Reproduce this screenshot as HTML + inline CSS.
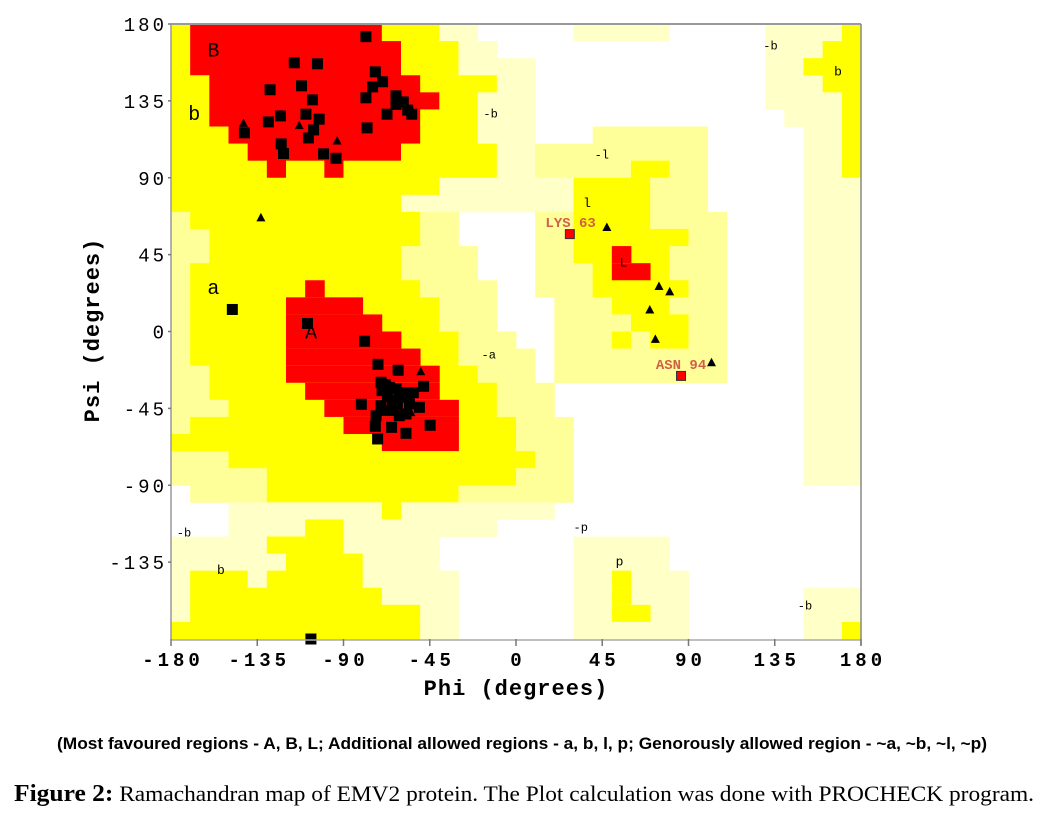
<!DOCTYPE html>
<html><head><meta charset="utf-8"><style>
html,body{margin:0;padding:0;background:#fff;width:1047px;height:816px;overflow:hidden}
svg{display:block}
</style></head><body>
<svg id="chart" width="1047" height="816" viewBox="0 0 1047 816" xmlns="http://www.w3.org/2000/svg">
<g id="regions"></g>
<g id="labels" font-family="Liberation Mono, monospace" fill="#000"></g>
<g id="points"></g>
<g id="axes"></g>
<text x="516" y="695" text-anchor="middle" font-family="Liberation Mono, monospace" font-weight="bold" font-size="22" letter-spacing="1">Phi (degrees)</text>
<text transform="translate(99,330) rotate(-90)" text-anchor="middle" font-family="Liberation Mono, monospace" font-weight="bold" font-size="22" letter-spacing="1">Psi (degrees)</text>
<text x="57" y="749" textLength="930" lengthAdjust="spacingAndGlyphs" font-family="Liberation Sans, Arial, sans-serif" font-weight="bold" font-size="17">(Most favoured regions -  A, B, L; Additional allowed regions -  a,  b,  l,  p; Genorously allowed region -  ~a, ~b, ~l, ~p)</text>
<text x="14" y="801" textLength="1020" lengthAdjust="spacingAndGlyphs" font-family="Liberation Serif, serif" font-size="22"><tspan font-weight="bold" font-size="24">Figure 2:</tspan> Ramachandran map of EMV2 protein. The Plot calculation was done with PROCHECK program.</text>
</svg>
<script>
// ---- data ----
const sqPhi = [-78.3,-115.7,-103.6,-73.4,-69.6,-74.8,-128.3,-111.9,-106.2,-78.3,-62.6,-62.6,-58.8,-56.5,-54.4,-67.3,-129.2,-122.9,-109.6,-102.7,-77.7,-105.6,-141.7,-108.3,-122.5,-121.3,-100.4,-93.9,-148,-108.8,
  -79,-72,-61.5,-48.2,-70.4,-69.9,-66.1,-62.6,-60.9,-56.5,-64.4,-70.4,-80.7,-55.6,-50.4,-73,-60.9,-64.4,-57.4,-73.4,-64.9,-57.4,-44.8,-72.2,-107,-68.2,-67.1,-59.3,-69.2,-61.9,-53.6];
const sqPsi = [172.6,157.3,156.7,152,146.2,143.2,141.5,143.8,135.6,136.8,138,132.9,134.4,129.6,127.2,127.2,122.7,126.2,127.2,124.3,119.2,118,116.3,113.3,109.8,104.2,104,101.4,12.9,4.7,
  -5.7,-19.2,-22.7,-32.1,-29.7,-34.6,-32.7,-33.6,-38.5,-36.9,-40.5,-43.4,-42.6,-42.4,-44.4,-49.3,-49.3,-46.3,-48.3,-55.5,-56.1,-59.6,-54.9,-62.9,-180,-31.1,-38.1,-35.8,-46.3,-42.8,-35.8];
const triPhi = [-142.2,-113.1,-93.3,-133.1,-49.7,-54.8,47.4,74.6,80.2,69.8,72.7,102];
const triPsi = [122.1,120.8,111.8,66.8,-23.3,-47.3,61.2,26.6,23.5,12.9,-4.3,-18];
const outNames = ["LYS 63","ASN 94"];
const outPhi = [28.1,86.1];
const outPsi = [57,-26];
const xTicks = [-180,-135,-90,-45,0,45,90,135,180];
const yTicks = [180,135,90,45,0,-45,-90,-135];
// region map: rows from psi 180 downward, 10-degree cells; segments "c0-c1type"
const regionRows = [
"0y,1-10r,11-13y,14-15h,21-25h,31-34h,35y",
"0y,1-11r,12-14y,15-16h,31-33h,34-35y",
"0y,1-11r,12-14y,15-18h,31-32h,33-35y",
"0-1y,2-12r,13-16y,17-18h,31-33h,34-35y",
"0-1y,2-13r,14-15y,16-18h,31-34h,35y",
"0-1y,2-12r,13-15y,16-18h,32-34h,35y",
"0-2y,3-12r,13-15y,16-18h,22-27h,33-34h,35y",
"0-3y,4-11r,12-16y,17-18h,19-27h,33-34h,35y",
"0-4y,5r,6-7y,8r,9-16y,17-18h,19-23h,24-25y,26-27h,33-34h,35y",
"0-13y,14-20h,21-24y,25-27h,33-35h",
"0-11y,12-20h,21-24y,25-27h,33-35h",
"0h,1-12y,13-14h,19-20h,21-24y,25-28h,33-35h",
"0-1h,2-12y,13-14h,19-20h,21-26y,27-28h,33-35h",
"0-1h,2-11y,12-15h,19-20h,21-25y,23r,26-28h,33-35h",
"0h,1-11y,12-15h,19-21h,22-25y,23-24r,26-28h,33-35h",
"0h,1-12y,7r,13-16h,19-21h,22-26y,27-28h,33-35h",
"0h,1-13y,6-9r,14-16h,20-22h,23-25y,26-28h,33-35h",
"0h,1-13y,6-10r,14-16h,20-23h,24-26y,27-28h,33-35h",
"0h,1-14y,6-11r,15-17h,20-22h,23y,24h,25-26y,27-28h,33-35h",
"0h,1-14y,6-12r,15-18h,20-28h,33-35h",
"0-1h,2-15y,6-13r,16-18h,20-28h,33-35h",
"0-1h,2-16y,7-13r,17-19h,33-35h",
"0-2h,3-16y,8-14r,17-19h,33-35h",
"0h,1-17y,9-14r,18-20h,33-35h",
"0-17y,11-14r,18-20h,33-35h",
"0-2h,3-18y,19-20h,33-35h",
"0-4h,5-17y,18-20h,33-35h",
"1-4h,5-14y,15-20h",
"3-10h,11y,12-19h",
"3-6h,7-8y,9-16h",
"0-4h,5-8y,9-13h,21-25h",
"0-5h,6-9y,10-13h,21-25h",
"0h,1-3y,4h,5-9y,10-14h,21-26h,23y",
"0h,1-10y,11-14h,21-26h,23y,33-35h",
"0h,1-12y,13-14h,21-26h,23-24y,33-35h",
"0-12y,13-14h,21-26h,33-34h,35y"
];
// ---- scales ----
const X0=171, X1=861, Y0=24, Y1=639;
const xs = p => X0 + (p+180)/360*(X1-X0);
const ys = q => Y0 + (180-q)/360*(Y1-Y0);
const NS="http://www.w3.org/2000/svg";
function mk(tag, parent, attrs){const e=document.createElementNS(NS,tag);for(const k in attrs)e.setAttribute(k,attrs[k]);parent.appendChild(e);return e;}
const gR=document.getElementById('regions');
const bg=mk('rect',gR,{x:X0,y:Y0,width:X1-X0,height:Y1-Y0,fill:'#fff'});


regionRows.forEach((row,r)=>{
  row.split(',').forEach(seg=>{
    const m=seg.match(/^(\d+)(?:-(\d+))?([ryh])$/);
    const c0=+m[1], c1=m[2]!==undefined?+m[2]:c0, t=m[3];
    let col;
    if(t==='r') col='#ff0000';
    else if(t==='y') col='#ffff00';
    else {
      const dark=(c0>=19&&c0<=28&&r>=6&&r<=20)||(r>=11&&r<=27&&c0<=20);
      col=dark?'#ffff99':'#ffffc8';
    }
    const phiA=-180+c0*10, phiB=-180+(c1+1)*10, psiA=180-r*10, psiB=180-(r+1)*10;
    const x=xs(phiA), y=ys(psiA);
    const e=mk('rect',gR,{x:x.toFixed(2),y:y.toFixed(2),width:(xs(phiB)-x+0.4).toFixed(2),height:(ys(psiB)-y+0.4).toFixed(2),fill:col});
    
    
  });
});
// region labels
const gL=document.getElementById('labels');
const regLab=[["B",-161,164,20],["b",-171,127,20],["a",-161,25,20],["A",-110,-1,20],["-b",-17,127,12],["b",-156,-140,13],["-b",-177,-118,12],
["-a",-18,-14,12],["-l",41,103,12],["l",35,75,13],["L",54,40,13],["-p",30,-115,12],["p",52,-135,13],["-b",129,167,12],["b",166,152,13],["-b",147,-161,12]];
regLab.forEach(l=>{
  const t=mk('text',gL,{x:xs(l[1]),y:ys(l[2]),'font-size':l[3],'dominant-baseline':'middle'});
  t.textContent=l[0];
  
  
});
// points
const gP=document.getElementById('points');
sqPhi.forEach((p,i)=>{
  const s=11;
  const e=mk('rect',gP,{x:xs(p)-s/2,y:ys(sqPsi[i])-s/2,width:s,height:s,fill:'#000'});
  
  
});
triPhi.forEach((p,i)=>{
  const cx=xs(p), cy=ys(triPsi[i]);
  const e=mk('polygon',gP,{points:`${cx},${cy-4.5} ${cx-4.5},${cy+4} ${cx+4.5},${cy+4}`,fill:'#000'});
  
  
});
outPhi.forEach((p,i)=>{
  const cx=xs(p), cy=ys(outPsi[i]);
  const e=mk('rect',gP,{x:cx-4.5,y:cy-4.5,width:9,height:9,fill:'#ff0000',stroke:'#333','stroke-width':1});
  
  
  const t=mk('text',gP,{x:cx+(i===0?26:0),y:cy-7,'text-anchor':i===0?'end':'middle','font-family':'Liberation Mono, monospace','font-weight':'bold','font-size':14,fill:'#d0604a'});
  t.textContent=outNames[i];
  
  
});
// axes
const gA=document.getElementById('axes');
const bt=mk('line',gA,{x1:X0,y1:Y0,x2:X1,y2:Y0,stroke:'#999','stroke-width':2});


const br=mk('line',gA,{x1:X1,y1:Y0,x2:X1,y2:Y1+6,stroke:'#888','stroke-width':1.5});


const bl=mk('line',gA,{x1:X0,y1:Y0,x2:X0,y2:Y1,stroke:'#999','stroke-width':1.5});


const bb=mk('line',gA,{x1:X0,y1:Y1+1,x2:X1,y2:Y1+1,stroke:'#aaa','stroke-width':1.5});


xTicks.forEach(v=>{
  const x=xs(v);
  const tk=mk('line',gA,{x1:x,y1:Y1,x2:x,y2:Y1+7,stroke:'#777','stroke-width':1.5});
  
  
  const t=mk('text',gA,{x:x+2,y:666,'text-anchor':'middle','font-family':'Liberation Mono, monospace','font-weight':'bold','font-size':19,'letter-spacing':4});
  t.textContent=String(v);
  
  
});
yTicks.forEach(v=>{
  const y=ys(v);
  const tk=mk('line',gA,{x1:X0-3,y1:y,x2:X0,y2:y,stroke:'#777','stroke-width':1.5});
  
  
  const t=mk('text',gA,{x:X0-4,y:y+7,'text-anchor':'end','font-family':'Liberation Mono, monospace','font-size':19,'letter-spacing':3});
  t.textContent=String(v);
  
  
});
</script>
</body></html>
